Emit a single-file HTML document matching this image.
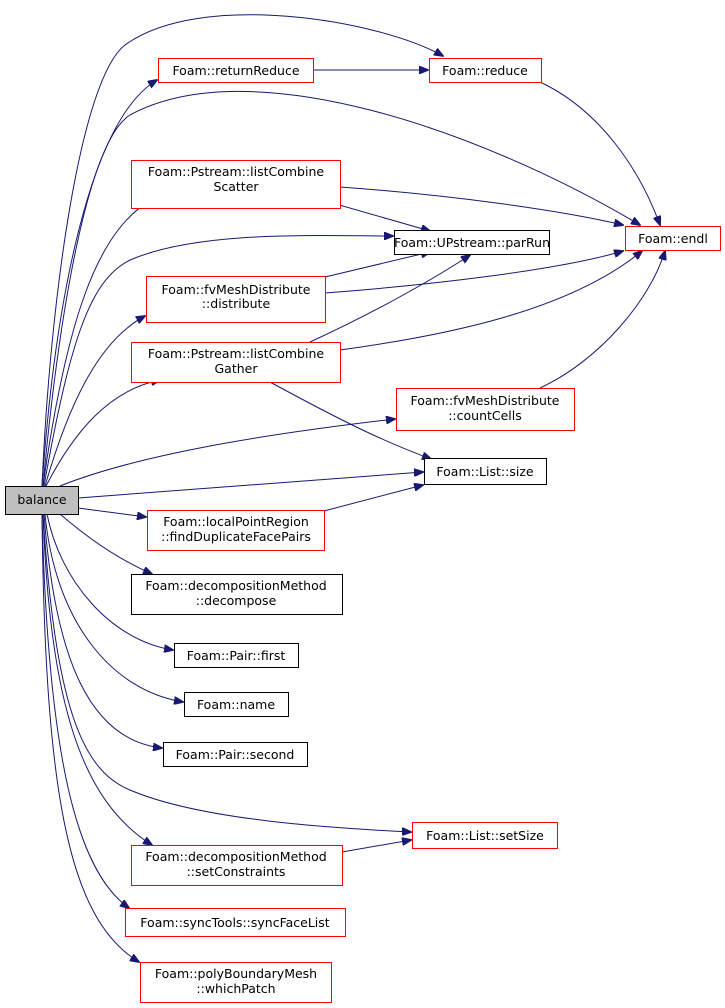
<!DOCTYPE html>
<html><head><meta charset="utf-8"><style>
html,body{margin:0;padding:0;background:#fff;}
svg{display:block;}
text{font-family:"DejaVu Sans","Liberation Sans",sans-serif;font-size:12.5px;fill:#000;}
</style></head><body>
<svg width="725" height="1008" viewBox="0 0 725 1008" xmlns="http://www.w3.org/2000/svg">
<defs>
<marker id="a" markerWidth="10" markerHeight="8" refX="9" refY="4" orient="auto" markerUnits="userSpaceOnUse">
<path d="M0,0 L10,4 L0,8 Z" fill="#191970" stroke="#191970"/>
</marker>
</defs>
<g fill="none" stroke="#191970" stroke-width="1" marker-end="url(#a)">
<path d="M42,486 C50,300 80,80 125,45 C200,-10 380,20 443,56"/>
<path d="M42,486 C55,300 90,120 157,80"/>
<path d="M43,486 C60,300 90,140 130,115 C250,50 480,130 640,225"/>
<path d="M43,486 C65,330 95,230 152,200"/>
<path d="M44,486 C70,340 90,280 130,260 C200,230 320,236 393,236"/>
<path d="M45,486 C70,400 100,340 145,316"/>
<path d="M46,486 C75,430 110,390 160,380"/>
<path d="M60,486 C150,450 300,430 395,419"/>
<path d="M78,498 L423,472"/>
<path d="M78,508 L146,517"/>
<path d="M60,514 C90,540 120,560 152,574"/>
<path d="M47,514 C60,580 110,640 173,650"/>
<path d="M45,514 C55,620 110,690 183,702"/>
<path d="M44,514 C55,660 90,740 162,748"/>
<path d="M43,514 C55,700 80,770 130,790 C200,820 330,828 411,832"/>
<path d="M43,514 C50,700 80,800 152,845"/>
<path d="M42,514 C48,750 75,870 129,908"/>
<path d="M42,514 C45,800 70,920 139,962"/>
<path d="M313,70 L428,70"/>
<path d="M540,82 C600,110 640,170 660,225"/>
<path d="M340,187 C450,195 560,210 623,225"/>
<path d="M315,198 L430,231"/>
<path d="M325,277 L430,252"/>
<path d="M325,293 C430,285 560,270 623,251"/>
<path d="M310,342 C380,310 440,275 470,255"/>
<path d="M340,350 C450,335 570,310 642,251"/>
<path d="M270,382 C340,420 380,440 431,459"/>
<path d="M540,388 C600,360 650,300 665,251"/>
<path d="M320,512 L423,485"/>
<path d="M342,852 L411,840"/>
</g>
<g stroke-width="1">
<rect x="5.5" y="486.5" width="73" height="28" fill="#bfbfbf" stroke="#000"/>
<rect x="158.5" y="58.5" width="155" height="24" fill="#fff" stroke="#f00"/>
<rect x="429.5" y="58.5" width="112" height="24" fill="#fff" stroke="#f00"/>
<rect x="131.5" y="160.5" width="209" height="48" fill="#fff" stroke="#f00"/>
<rect x="394.5" y="230.5" width="155" height="24" fill="#fff" stroke="#000"/>
<rect x="625.5" y="226.5" width="95" height="24" fill="#fff" stroke="#f00"/>
<rect x="146.5" y="276.5" width="179" height="46" fill="#fff" stroke="#f00"/>
<rect x="131.5" y="342.5" width="209" height="40" fill="#fff" stroke="#f00"/>
<rect x="396.5" y="388.5" width="178" height="42" fill="#fff" stroke="#f00"/>
<rect x="424.5" y="458.5" width="122" height="26" fill="#fff" stroke="#000"/>
<rect x="147.5" y="510.5" width="177" height="40" fill="#fff" stroke="#f00"/>
<rect x="131.5" y="574.5" width="211" height="40" fill="#fff" stroke="#000"/>
<rect x="174.5" y="643.5" width="124" height="24" fill="#fff" stroke="#000"/>
<rect x="184.5" y="692.5" width="104" height="24" fill="#fff" stroke="#000"/>
<rect x="163.5" y="742.5" width="144" height="24" fill="#fff" stroke="#000"/>
<rect x="412.5" y="822.5" width="145" height="26" fill="#fff" stroke="#f00"/>
<rect x="131.5" y="845.5" width="211" height="40" fill="#fff" stroke="#f00"/>
<rect x="125.5" y="908.5" width="220" height="28" fill="#fff" stroke="#f00"/>
<rect x="140.5" y="962.5" width="191" height="40" fill="#fff" stroke="#f00"/>
</g>
<g text-anchor="middle">
<text x="42" y="504">balance</text>
<text x="236" y="75">Foam::returnReduce</text>
<text x="485" y="75">Foam::reduce</text>
<text x="236" y="176">Foam::Pstream::listCombine</text>
<text x="236" y="191">Scatter</text>
<text x="472" y="247">Foam::UPstream::parRun</text>
<text x="673" y="243">Foam::endl</text>
<text x="236" y="294">Foam::fvMeshDistribute</text>
<text x="236" y="308">::distribute</text>
<text x="236" y="358">Foam::Pstream::listCombine</text>
<text x="236" y="373">Gather</text>
<text x="485" y="405">Foam::fvMeshDistribute</text>
<text x="485" y="420">::countCells</text>
<text x="485" y="476">Foam::List::size</text>
<text x="236" y="526">Foam::localPointRegion</text>
<text x="236" y="541">::findDuplicateFacePairs</text>
<text x="236" y="590">Foam::decompositionMethod</text>
<text x="236" y="605">::decompose</text>
<text x="236" y="660">Foam::Pair::first</text>
<text x="236" y="709">Foam::name</text>
<text x="235" y="759">Foam::Pair::second</text>
<text x="485" y="840">Foam::List::setSize</text>
<text x="236" y="861">Foam::decompositionMethod</text>
<text x="236" y="876">::setConstraints</text>
<text x="235" y="927">Foam::syncTools::syncFaceList</text>
<text x="236" y="978">Foam::polyBoundaryMesh</text>
<text x="236" y="993">::whichPatch</text>
</g>
</svg>
</body></html>
